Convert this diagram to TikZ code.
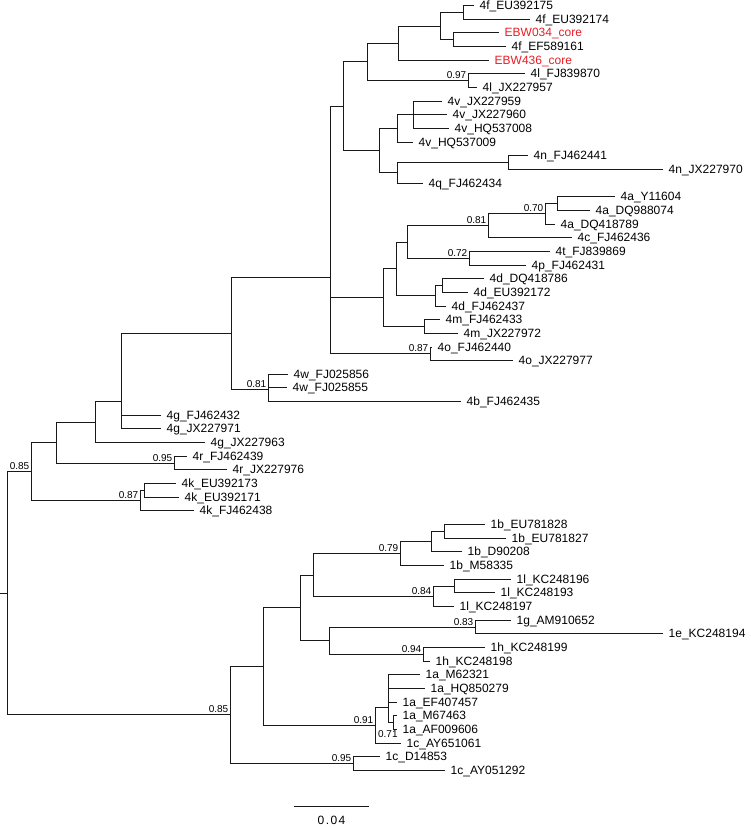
\documentclass[tikz,border=0pt]{standalone}
\usepackage{fontspec}
\setmainfont{Liberation Sans}
\definecolor{ebwred}{RGB}{232,30,37}
\newcommand\lf[4][black]{%
  \coordinate (t#2) at ({round(#3)+0.5},{round(5+13.66*#2)+0.5});
  \node[tiplab,text=#1] (l#2) at (t#2) {#4};}
\newcommand\nd[3]{\coordinate (#1) at ({round(#2)+0.5},{round(#3)+0.5});}
% #1 node, #2 first child, #3 last child, #4 all children
\newcommand\clade[4]{%
  \draw[branch] (#1 |- #2) -- (#1 |- #3);
  \foreach \c in {#4} {\draw[branch] (#1 |- \c) -- (\c);}}
\begin{document}
\begin{tikzpicture}[x=1pt,y=-1pt,
  branch/.style={line width=1.5pt, black!90, line cap=rect},
  tiplab/.style={anchor=base west, inner sep=0pt, font=\fontsize{12}{14}\selectfont, xshift=6pt, yshift=-4.3pt},
  bslab/.style={anchor=base east, inner sep=0pt, font=\fontsize{10}{12}\selectfont, xshift=-2pt, yshift=1.6pt}]
\useasboundingbox (0,0) rectangle (750,827);
% ---------- leaves ----------
\lf{0}{473}{4f\_EU392175}
\lf{1}{529}{4f\_EU392174}
\lf[ebwred]{2}{498}{EBW034\_core}
\lf{3}{504.5}{4f\_EF589161}
\lf[ebwred]{4}{488}{EBW436\_core}
\lf{5}{524}{4l\_FJ839870}
\lf{6}{475.5}{4l\_JX227957}
\lf{7}{440.5}{4v\_JX227959}
\lf{8}{445.5}{4v\_JX227960}
\lf{9}{448}{4v\_HQ537008}
\lf{10}{412}{4v\_HQ537009}
\lf{11}{527}{4n\_FJ462441}
\lf{12}{662}{4n\_JX227970}
\lf{13}{421.5}{4q\_FJ462434}
\lf{14}{613.5}{4a\_Y11604}
\lf{15}{588.5}{4a\_DQ988074}
\lf{16}{553.5}{4a\_DQ418789}
\lf{17}{570.5}{4c\_FJ462436}
\lf{18}{549}{4t\_FJ839869}
\lf{19}{525}{4p\_FJ462431}
\lf{20}{483}{4d\_DQ418786}
\lf{21}{467}{4d\_EU392172}
\lf{22}{444.5}{4d\_FJ462437}
\lf{23}{438.5}{4m\_FJ462433}
\lf{24}{457}{4m\_JX227972}
\lf{25}{431}{4o\_FJ462440}
\lf{26}{512}{4o\_JX227977}
\lf{27}{287}{4w\_FJ025856}
\lf{28}{286}{4w\_FJ025855}
\lf{29}{460}{4b\_FJ462435}
\lf{30}{160}{4g\_FJ462432}
\lf{31}{160}{4g\_JX227971}
\lf{32}{203.5}{4g\_JX227963}
\lf{33}{186}{4r\_FJ462439}
\lf{34}{226}{4r\_JX227976}
\lf{35}{174.5}{4k\_EU392173}
\lf{36}{177.5}{4k\_EU392171}
\lf{37}{193}{4k\_FJ462438}
\lf{38}{483.5}{1b\_EU781828}
\lf{39}{505}{1b\_EU781827}
\lf{40}{460.5}{1b\_D90208}
\lf{41}{443}{1b\_M58335}
\lf{42}{510}{1l\_KC248196}
\lf{43}{493.5}{1l\_KC248193}
\lf{44}{453}{1l\_KC248197}
\lf{45}{510}{1g\_AM910652}
\lf{46}{662}{1e\_KC248194}
\lf{47}{483.5}{1h\_KC248199}
\lf{48}{428.5}{1h\_KC248198}
\lf{49}{418.5}{1a\_M62321}
\lf{50}{423.5}{1a\_HQ850279}
\lf{51}{395.5}{1a\_EF407457}
\lf{52}{396}{1a\_M67463}
\lf{53}{396}{1a\_AF009606}
\lf{54}{400}{1c\_AY651061}
\lf{55}{378.5}{1c\_D14853}
\lf{56}{443.5}{1c\_AY051292}
% ---------- internal nodes ----------
\nd{F1}{462.7}{11.9}
\nd{F3}{453.3}{39.2}
\nd{F2}{440}{25.5}
\nd{F4}{398.3}{42.6}
\nd{L}{468.3}{80.1}
\nd{F5}{367.3}{61.4}
\nd{V3}{413.3}{114.3}
\nd{V}{396.7}{128}
\nd{N}{508.3}{162.1}
\nd{NQ}{396.7}{172.3}
\nd{VNQ}{379}{150.2}
\nd{T1}{342.7}{105.8}
\nd{A1}{556.7}{203}
\nd{A2}{545}{213.3}
\nd{A3}{488.3}{225.3}
\nd{TP}{469.3}{257.7}
\nd{A4}{406.7}{241.5}
\nd{D1}{441.7}{285}
\nd{D}{435}{295.3}
\nd{A5}{396}{268.4}
\nd{M}{424}{326}
\nd{A6}{382.7}{297.2}
\nd{O}{430}{353.3}
\nd{X}{330}{277}
\nd{W}{268}{389}
\nd{N231}{231}{333}
\nd{N121}{121}{401}
\nd{N95}{95}{421.5}
\nd{R4}{174}{462.6}
\nd{N56}{56}{442}
\nd{K1}{144}{490}
\nd{K}{140}{500.2}
\nd{G4}{31}{471.1}
\nd{P2}{444.3}{530.9}
\nd{B1i}{431}{541.2}
\nd{B1}{400}{553.1}
\nd{L1p}{454}{585.6}
\nd{L1}{433.3}{595.8}
\nd{BL}{313.3}{574.5}
\nd{GE}{475}{626.5}
\nd{H}{423.3}{653.9}
\nd{GEH}{329}{640.2}
\nd{B}{300}{607.4}
\nd{Q}{393}{722.2}
\nd{P}{388}{707.3}
\nd{A1a}{375}{724.5}
\nd{G2}{263.3}{665.8}
\nd{C1c}{352.7}{763}
\nd{G1}{230}{714.4}
\nd{Root}{7}{592.8}
\coordinate (Stub) at (0,593.5);
% ---------- branches ----------
\clade{F1}{t0}{t1}{t0,t1}
\clade{F3}{t2}{t3}{t2,t3}
\clade{F2}{F1}{F3}{F1,F3}
\clade{F4}{F2}{t4}{F2,t4}
\clade{L}{t5}{t6}{t5,t6}
\clade{F5}{F4}{L}{F4,L}
\clade{V3}{t7}{t9}{t7,t8,t9}
\clade{V}{V3}{t10}{V3,t10}
\clade{N}{t11}{t12}{t11,t12}
\clade{NQ}{N}{t13}{N,t13}
\clade{VNQ}{V}{NQ}{V,NQ}
\clade{T1}{F5}{VNQ}{F5,VNQ}
\clade{A1}{t14}{t15}{t14,t15}
\clade{A2}{A1}{t16}{A1,t16}
\clade{A3}{A2}{t17}{A2,t17}
\clade{TP}{t18}{t19}{t18,t19}
\clade{A4}{A3}{TP}{A3,TP}
\clade{D1}{t20}{t21}{t20,t21}
\clade{D}{D1}{t22}{D1,t22}
\clade{A5}{A4}{D}{A4,D}
\clade{M}{t23}{t24}{t23,t24}
\clade{A6}{A5}{M}{A5,M}
\clade{O}{t25}{t26}{t25,t26}
\clade{X}{T1}{O}{T1,A6,O}
\clade{W}{t27}{t29}{t27,t28,t29}
\clade{N231}{X}{W}{X,W}
\clade{N121}{N231}{t31}{N231,t30,t31}
\clade{N95}{N121}{t32}{N121,t32}
\clade{R4}{t33}{t34}{t33,t34}
\clade{N56}{N95}{R4}{N95,R4}
\clade{K1}{t35}{t36}{t35,t36}
\clade{K}{K1}{t37}{K1,t37}
\clade{G4}{N56}{K}{N56,K}
\clade{P2}{t38}{t39}{t38,t39}
\clade{B1i}{P2}{t40}{P2,t40}
\clade{B1}{B1i}{t41}{B1i,t41}
\clade{L1p}{t42}{t43}{t42,t43}
\clade{L1}{L1p}{t44}{L1p,t44}
\clade{BL}{B1}{L1}{B1,L1}
\clade{GE}{t45}{t46}{t45,t46}
\clade{H}{t47}{t48}{t47,t48}
\clade{GEH}{GE}{H}{GE,H}
\clade{B}{BL}{GEH}{BL,GEH}
\clade{Q}{t52}{t53}{t52,t53}
\clade{P}{t49}{Q}{t49,t50,t51,Q}
\clade{A1a}{P}{t54}{P,t54}
\clade{G2}{B}{A1a}{B,A1a}
\clade{C1c}{t55}{t56}{t55,t56}
\clade{G1}{G2}{C1c}{G2,C1c}
\clade{Root}{G4}{G1}{G4,G1}
\draw[branch] (Stub) -- (Root);
% ---------- support values ----------
\node[bslab] (bL) at (L) {0.97};
\node[bslab] (bG4) at (G4) {0.85};
\node[bslab] (bR4) at (R4) {0.95};
\node[bslab] (bK) at (K) {0.87};
\node[bslab] (bW) at (W) {0.81};
\node[bslab] (bO) at (O) {0.87};
\node[bslab] (bTP) at (TP) {0.72};
\node[bslab] (bA3) at (A3) {0.81};
\node[bslab] (bA2) at (A2) {0.70};
\node[bslab] (bB1) at (B1) {0.79};
\node[bslab] (bL1) at (L1) {0.84};
\node[bslab] (bGE) at (GE) {0.83};
\node[bslab] (bH) at (H) {0.94};
\node[bslab] (bG1) at (G1) {0.85};
\node[bslab] (bA1a) at (A1a) {0.91};
\node[bslab] (bC1c) at (C1c) {0.95};
\node[anchor=east, inner sep=0pt, font=\fontsize{10}{12}\selectfont] (bQ) at (397.8,734) {0.71};
% ---------- scale bar ----------
\coordinate (sb1) at (295,806.5);
\coordinate (sb2) at (368,806.5);
\draw[branch] (sb1) -- (sb2);
\node[inner sep=0pt, font=\fontsize{12}{14}\selectfont\addfontfeature{LetterSpace=12}] (sbl) at (331.5,820.5) {0.04};
\end{tikzpicture}
\end{document}
